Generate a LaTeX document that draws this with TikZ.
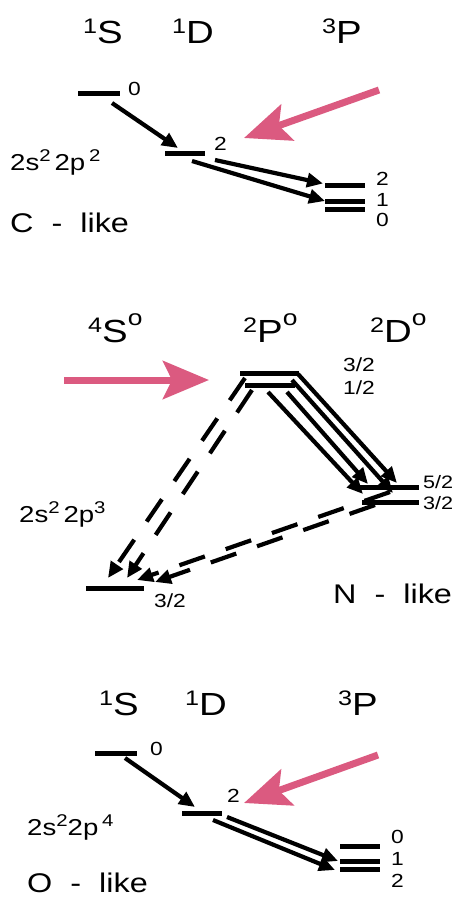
\documentclass[tikz,border=0pt]{standalone}
\usepackage{fontspec}
\setmainfont{Liberation Sans}[FakeStretch=1.2]
\usetikzlibrary{arrows.meta}
\definecolor{pinkarrow}{RGB}{219,90,128}
\newcommand{\supnum}[1]{\raisebox{10pt}{\fontsize{21}{21}\selectfont #1}}
\newcommand{\supo}{\raisebox{17pt}{\fontsize{22}{22}\selectfont o}}
\newcommand{\termlet}[1]{{\fontsize{32}{32}\selectfont #1}}
\newcommand{\cfgsup}[1]{\raisebox{9pt}{\fontsize{17}{17}\selectfont #1}}
\begin{document}
\begin{tikzpicture}[x=1pt,y=-1pt,
  lvl/.style={fill=black,inner sep=0pt,minimum height=5pt},
  txt/.style={anchor=base west,inner sep=0pt},
  term/.style={txt},
  jlab/.style={txt,font=\fontsize{19}{19}\selectfont},
  flab/.style={txt,font=\fontsize{19}{19}\selectfont},
  rlab/.style={txt,font=\fontsize{18}{18}\selectfont},
  cfg/.style={txt,font=\fontsize{23}{23}\selectfont},
  like/.style={txt,font=\fontsize{27}{27}\selectfont},
  tr/.style={line width=4.2pt,-{Triangle[length=16pt,width=14pt]}},
  dtr/.style={line width=4.2pt,dash pattern=on 27pt off 22pt,-{Triangle[length=16pt,width=14pt]}},
  pump/.style={draw=pinkarrow,line width=7pt,-{Stealth[length=46pt,width=38pt,inset=9pt]}}]
\useasboundingbox (0,0) rectangle (455,898);

% ===== C-like =====
\node[term] (cS) at (83,43) {\supnum{1}\termlet{S}};
\node[term] (cD) at (172,43) {\supnum{1}\termlet{D}};
\node[term] (cP) at (322,43) {\supnum{3}\termlet{P}};
\node[lvl,minimum width=42pt] (cS0) at (99,93.5) {};
\node[lvl,minimum width=40pt] (cD2) at (185,153) {};
\node[lvl,minimum width=40pt] (cP2) at (345,185) {};
\node[lvl,minimum width=40pt] (cP1) at (345,201.5) {};
\node[lvl,minimum width=40pt] (cP0) at (345,209) {};
\node[jlab] (lcS0) at (128,95) {0};
\node[jlab] (lcD2) at (214,150) {2};
\node[jlab] (lcP2) at (376,185) {2};
\node[jlab] (lcP1) at (376,206) {1};
\node[jlab] (lcP0) at (376,226) {0};
\node[cfg] (ccfg) at (10,170) {2s\cfgsup{2}\,2p\,\cfgsup{2}};
\node[like] (clike) at (10,232) {C\ \ -\ \ like};
\coordinate (ca1s) at (112,103); \coordinate (ca1e) at (178,148);
\coordinate (ca2s) at (215,160); \coordinate (ca2e) at (323,183.5);
\coordinate (ca3s) at (192,161); \coordinate (ca3e) at (325,201);
\draw[tr] (ca1s) -- (ca1e);
\draw[tr] (ca2s) -- (ca2e);
\draw[tr] (ca3s) -- (ca3e);
\coordinate (cpump0) at (379,90); \coordinate (cpump1) at (244,138);
\draw[pump] (cpump0) -- (cpump1);

% ===== N-like =====
\node[term] (nS) at (88,342) {\supnum{4}\termlet{S}\supo};
\node[term] (nP) at (243,342) {\supnum{2}\termlet{P}\supo};
\node[term] (nD) at (370,342) {\supnum{2}\termlet{D}\supo};
\node[lvl,minimum width=59pt] (nP32) at (269.5,373) {};
\node[lvl,minimum width=50pt] (nP12) at (270,385) {};
\node[lvl,minimum width=62pt] (nD52) at (388,487.5) {};
\node[lvl,minimum width=57pt] (nD32) at (390.5,502) {};
\node[lvl,minimum width=58pt] (nS32) at (115,588) {};
\node[flab] (lnP32) at (343,371) {3/2};
\node[flab] (lnP12) at (343,394) {1/2};
\node[rlab] (lnD52) at (423,488) {5/2};
\node[rlab] (lnD32) at (423,509) {3/2};
\node[flab] (lnS32) at (154,607) {3/2};
\node[cfg] (ncfg) at (19,522) {2s\cfgsup{2}\,2p\cfgsup{3}};
\node[like] (nlike) at (333,603) {N\ \ -\ \ like};
\coordinate (ns1s) at (298,374); \coordinate (ns1e) at (397,483);
\coordinate (ns2s) at (292,380); \coordinate (ns2e) at (393,493);
\coordinate (ns3s) at (287,392); \coordinate (ns3e) at (368,484);
\coordinate (ns4s) at (268,392); \coordinate (ns4e) at (363,494);
\draw[tr] (ns1s) -- (ns1e);
\draw[tr] (ns2s) -- (ns2e);
\draw[tr] (ns3s) -- (ns3e);
\draw[tr] (ns4s) -- (ns4e);
\coordinate (nd1s) at (245,378); \coordinate (nd1e) at (108,578);
\coordinate (nd2s) at (252,390); \coordinate (nd2e) at (127,578);
\coordinate (nd3s) at (390,492); \coordinate (nd3e) at (137,580);
\coordinate (nd4s) at (375,505); \coordinate (nd4e) at (155,582);
\draw[dtr] (nd1s) -- (nd1e);
\draw[dtr] (nd2s) -- (nd2e);
\draw[dtr] (nd3s) -- (nd3e);
\draw[dtr] (nd4s) -- (nd4e);
\coordinate (npump0) at (64,380); \coordinate (npump1) at (209,380);
\draw[pump] (npump0) -- (npump1);

% ===== O-like =====
\node[term] (oS) at (99,715) {\supnum{1}\termlet{S}};
\node[term] (oD) at (185,715) {\supnum{1}\termlet{D}};
\node[term] (oP) at (338,715) {\supnum{3}\termlet{P}};
\node[lvl,minimum width=42pt] (oS0) at (116,753) {};
\node[lvl,minimum width=40pt] (oD2) at (202,813) {};
\node[lvl,minimum width=40pt] (oP0) at (360,846) {};
\node[lvl,minimum width=40pt] (oP1) at (360,861) {};
\node[lvl,minimum width=40pt] (oP2) at (360,869) {};
\node[jlab] (loS0) at (150,755) {0};
\node[jlab] (loD2) at (227,802) {2};
\node[jlab] (loP0) at (391,843) {0};
\node[jlab] (loP1) at (391,865) {1};
\node[jlab] (loP2) at (391,887) {2};
\node[cfg] (ocfg) at (27,835) {2s\cfgsup{2}2p\,\cfgsup{4}};
\node[like] (olike) at (27,892) {O\ \ -\ \ like};
\coordinate (oa1s) at (125,758); \coordinate (oa1e) at (195,807);
\coordinate (oa2s) at (227,817); \coordinate (oa2e) at (338,861);
\coordinate (oa3s) at (213,820); \coordinate (oa3e) at (335,870);
\draw[tr] (oa1s) -- (oa1e);
\draw[tr] (oa2s) -- (oa2e);
\draw[tr] (oa3s) -- (oa3e);
\coordinate (opump0) at (378,755); \coordinate (opump1) at (244,803);
\draw[pump] (opump0) -- (opump1);
\end{tikzpicture}
\end{document}
